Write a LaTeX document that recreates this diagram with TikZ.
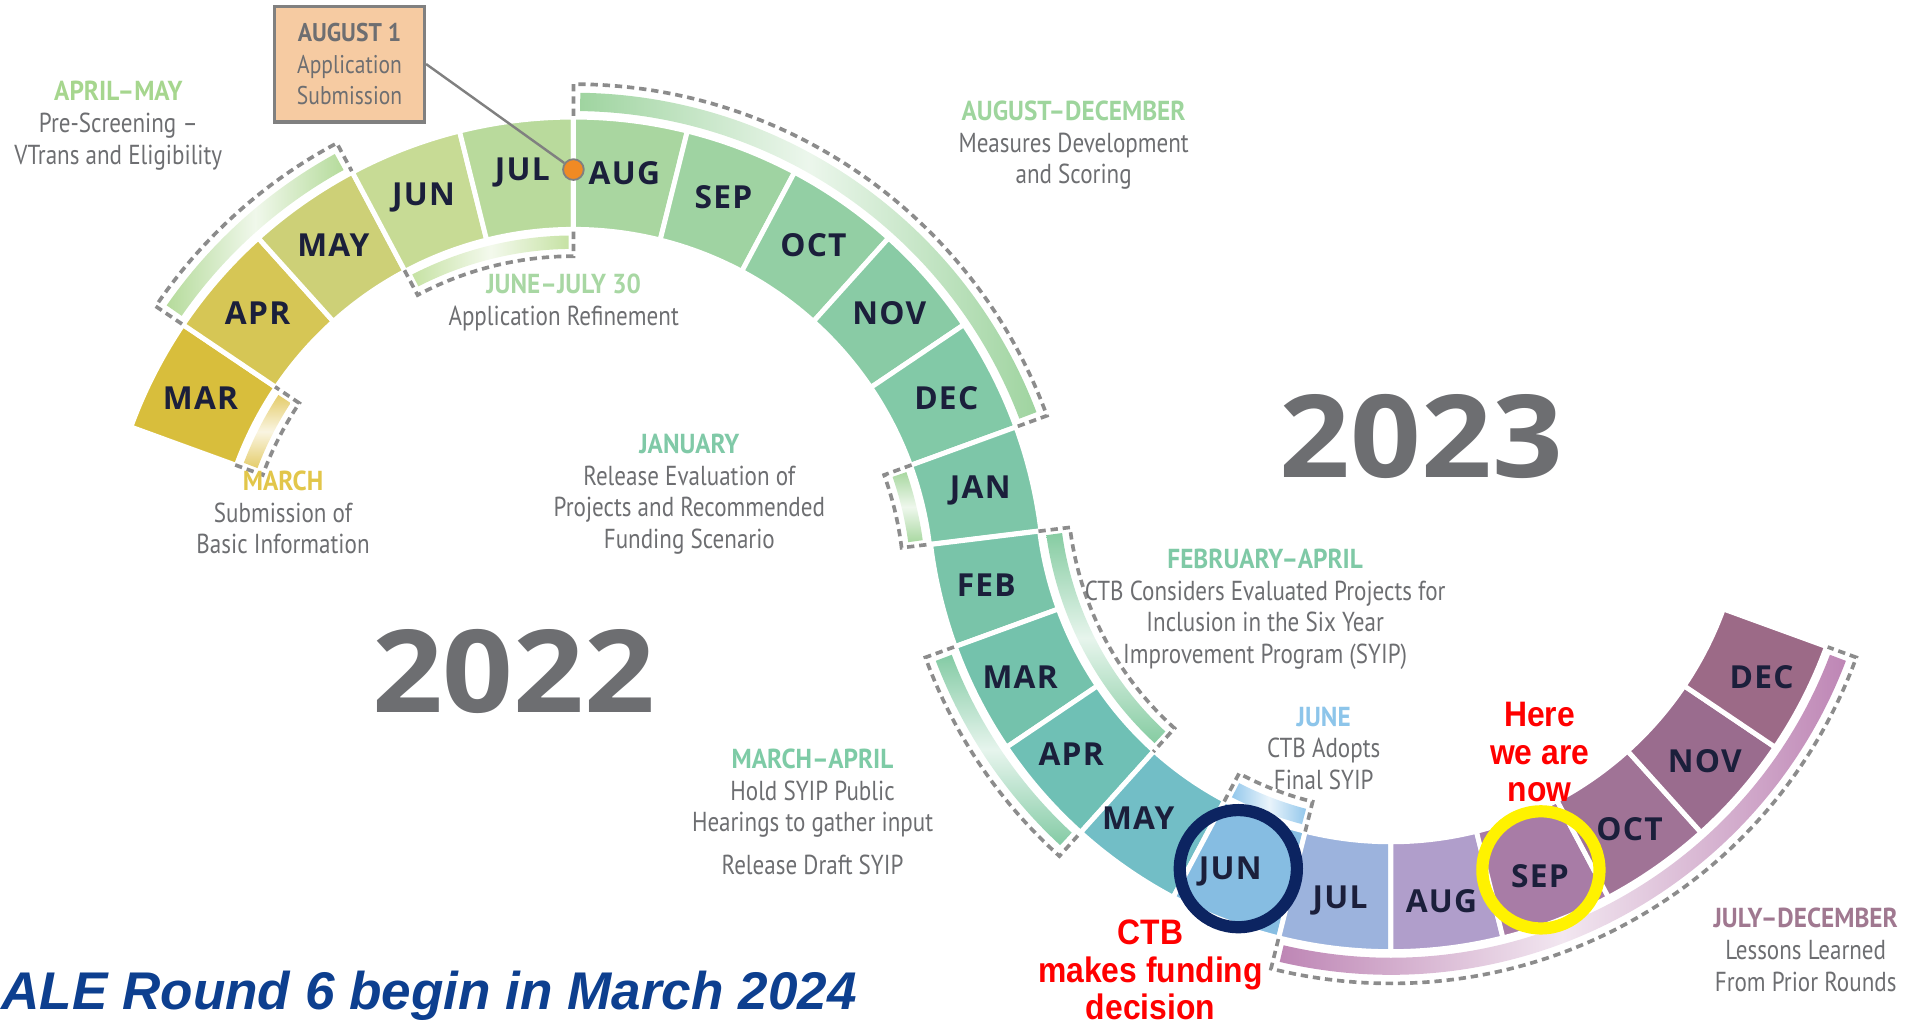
\documentclass[tikz,border=0pt]{standalone}
\usepackage{fontspec}
\usetikzlibrary{calc}
\newfontfamily\descfont[FakeStretch=0.84]{PT Sans}
\newfontfamily\headfont[FakeStretch=0.92]{PT Sans}
\newfontfamily\monthfont[LetterSpace=4]{Open Sans}
\newfontfamily\yearfont[FakeStretch=1.08]{Open Sans}
\newfontfamily\notefont[FakeStretch=0.9]{Liberation Sans}
\newfontfamily\titlefont{Liberation Sans}

\definecolor{monthtext}{HTML}{1B1F3B}
\definecolor{phasegray}{HTML}{6D6E71}
\definecolor{dashgray}{HTML}{8C8C8C}
\definecolor{notered}{HTML}{FF0000}
\definecolor{titleblue}{HTML}{0D3F8F}
\definecolor{ringnavy}{HTML}{0C2461}
\definecolor{ringyellow}{HTML}{FFF200}
\definecolor{boxpeach}{HTML}{F6CBA2}
\definecolor{boxgray}{HTML}{808080}
\definecolor{dotorange}{HTML}{F08A24}
% month colours, 2022 ring
\definecolor{uMar}{HTML}{D8BE3C}
\definecolor{uApr}{HTML}{D6C655}
\definecolor{uMay}{HTML}{CDD077}
\definecolor{uJun}{HTML}{C7DB95}
\definecolor{uJul}{HTML}{B9DA9C}
\definecolor{uAug}{HTML}{A9D6A0}
\definecolor{uSep}{HTML}{9FD3A2}
\definecolor{uOct}{HTML}{93CFA4}
\definecolor{uNov}{HTML}{89CBA5}
\definecolor{uDec}{HTML}{82C9A7}
\definecolor{uJan}{HTML}{7DC6A8}
% month colours, 2023 ring
\definecolor{lFeb}{HTML}{79C4A9}
\definecolor{lMar}{HTML}{74C2AC}
\definecolor{lApr}{HTML}{6FC0B5}
\definecolor{lMay}{HTML}{72BEC6}
\definecolor{lJun}{HTML}{86BDE2}
\definecolor{lJul}{HTML}{9CB3DD}
\definecolor{lAug}{HTML}{B09ECB}
\definecolor{lSep}{HTML}{A87CA6}
\definecolor{lOct}{HTML}{A07396}
\definecolor{lNov}{HTML}{9A6C8E}
\definecolor{lDec}{HTML}{9C6A87}
% phase headings and bands
\definecolor{hAprMay}{HTML}{A6D68E}
\definecolor{hJunJul}{HTML}{A8D7A3}
\definecolor{hAugDec}{HTML}{9ED59D}
\definecolor{hMar}{HTML}{E2C64A}
\definecolor{hJan}{HTML}{80C9A7}
\definecolor{hFebApr}{HTML}{7FC9A6}
\definecolor{hJune}{HTML}{8DC5EA}
\definecolor{hMarApr}{HTML}{7ECBA6}
\definecolor{hJulDec}{HTML}{A07890}
\definecolor{bAprMay}{HTML}{B5DB9B}
\definecolor{bJunJul}{HTML}{C6E2A4}
\definecolor{bAugDec}{HTML}{9FD4A0}
\definecolor{bMar}{HTML}{E4CC6A}
\definecolor{bJan}{HTML}{A9D8A1}
\definecolor{bFebApr}{HTML}{86CCA2}
\definecolor{bMarApr}{HTML}{84CBA5}
\definecolor{bJun}{HTML}{94C8EC}
\definecolor{bJulDec}{HTML}{BE86B5}

\tikzset{%
  every month/.style={
    font=\monthfont\bfseries\fontsize{26}{26}\selectfont,
    text=monthtext,
    inner sep=0pt
  },
  month seg/.style={
    draw=white,
    line width=4pt
  },
  phase text/.style={
    font=\descfont\fontsize{22.5}{26}\selectfont,
    text=phasegray,
    align=center,
    inner sep=0pt
  },
  phase outline/.style={
    draw=dashgray,
    line width=3pt,
    dash pattern=on 6pt off 4pt
  },
  red note/.style={
    font=\notefont\bfseries\fontsize{29}{31}\selectfont,
    text=notered,
    align=center,
    inner sep=0pt
  },
  year/.style={
    font=\yearfont\bfseries\fontsize{94}{94}\selectfont,
    text=phasegray,
    inner sep=0pt
  },
  mark ring/.style={
    circle,
    line width=10pt,
    minimum size=96pt,
    inner sep=0pt
  },
}
\newcommand\phasehead[2]{{\headfont\bfseries\color{#1}#2}}

\begin{document}
\begin{tikzpicture}[x=1pt, y=1pt]
\useasboundingbox (0,0) rectangle (1568,843);
\coordinate (c1) at (470,361);
\coordinate (c2) at (1140,443);

% 2022 ring
\foreach \m/\c [count=\i from 0] in {MAR/uMar,APR/uApr,MAY/uMay,JUN/uJun,JUL/uJul,AUG/uAug,SEP/uSep,OCT/uOct,NOV/uNov,DEC/uDec,JAN/uJan} {
  \pgfmathsetmacro\a{160-14*\i}
  \pgfmathsetmacro\b{max(\a-14,7)}
  \pgfmathsetmacro\mid{(\a+\b)/2}
  \filldraw [month seg, fill=\c, shift={(c1)}]
    (\a:386) arc[start angle=\a, end angle=\b, radius=386]
    -- (\b:294) arc[start angle=\b, end angle=\a, radius=294] -- cycle;
  \node [every month/.try] (upper-\m) at ($(c1)+(\mid:343)$) {\m};
}

% 2023 ring
\foreach \m/\c/\d [count=\i from 0] in {FEB/lFeb/0,MAR/lMar/0,APR/lApr/-1.2,MAY/lMay/-2.4,JUN/lJun/-1.7,JUL/lJul/0,AUG/lAug/0,SEP/lSep/0,OCT/lOct/0,NOV/lNov/0,DEC/lDec/0} {
  \pgfmathsetmacro\b{200+14*\i}
  \pgfmathsetmacro\a{max(\b-14,187)}
  \pgfmathsetmacro\mid{(\a+\b)/2+\d}
  \filldraw [month seg, fill=\c, shift={(c2)}]
    (\a:380) arc[start angle=\a, end angle=\b, radius=380]
    -- (\b:290) arc[start angle=\b, end angle=\a, radius=290] -- cycle;
  \node [every month/.try] (lower-\m) at ($(c2)+(\mid:341)$) {\m};
}

% phase bands with dashed frames
\foreach \cen/\a/\b/\ra/\rb/\rd/\re/\col/\sa in {
    c1/146/118/391/406/413/387/bAprMay/90,
    c1/118/90/289/278/272/295/bJunJul/90,
    c1/90/20/391/406/413/387/bAugDec/90,
    c1/160/146/289/277/271/295/bMar/0,
    c1/20/7/289/277/271/295/bJan/0,
    c2/187/228/285/272/265/291/bFebApr/0,
    c2/200/228/385/399/406/381/bMarApr/0,
    c2/242/256/285/272/265/291/bJun/90,
    c2/256/340/385/399/406/381/bJulDec/90} {
  \pgfmathsetmacro\s{(\b>\a) ? 0.8 : -0.8}
  \pgfmathsetmacro\ba{\a+\s}
  \pgfmathsetmacro\bb{\b-\s}
  \shade [left color=\col, right color=\col, middle color=\col!20, shading angle=\sa, shift={(\cen)}]
    (\ba:\ra) arc[start angle=\ba, end angle=\bb, radius=\ra]
    -- (\bb:\rb) arc[start angle=\bb, end angle=\ba, radius=\rb] -- cycle;
  \draw [phase outline, shift={(\cen)}]
    (\a:\re) -- (\a:\rd) arc[start angle=\a, end angle=\b, radius=\rd] -- (\b:\re);
}

% application submission marker
\node [draw=boxgray, fill=boxpeach, line width=2.5pt, minimum width=123pt, minimum height=95pt,
  font=\descfont\fontsize{21}{26}\selectfont, text=phasegray, align=center, inner sep=0pt]
  (aug-box) at (286.5,790.5) {{\headfont\bfseries AUGUST 1}\\Application\\Submission};
\node [circle, fill=dotorange, draw=boxgray, line width=1.5pt, minimum size=17pt, inner sep=0pt]
  (aug-dot) at ($(c1)+(90:343)$) {};
\draw [boxgray, line width=2pt] (aug-box.east) -- (aug-dot);

% phase descriptions
\node [phase text] (txt-aprmay) at (97,740)
  {\phasehead{hAprMay}{APRIL–MAY}\\Pre-Screening –\\VTrans and Eligibility};
\node [phase text] (txt-junjul) at (462,595)
  {\phasehead{hJunJul}{JUNE–JULY 30}\\Application Refinement};
\node [phase text] (txt-augdec) at (880,724)
  {\phasehead{hAugDec}{AUGUST–DECEMBER}\\Measures Development\\and Scoring};
\node [phase text] (txt-mar) at (232,423)
  {\phasehead{hMar}{MARCH}\\Submission of\\Basic Information};
\node [phase text] (txt-jan) at (565,438)
  {\phasehead{hJan}{JANUARY}\\Release Evaluation of\\Projects and Recommended\\Funding Scenario};
\node [phase text] (txt-febapr) at (1037,343.5)
  {\phasehead{hFebApr}{FEBRUARY–APRIL}\\CTB Considers Evaluated Projects for\\Inclusion in the Six Year\\Improvement Program (SYIP)};
\node [phase text] (txt-june) at (1085,229.5)
  {\phasehead{hJune}{JUNE}\\CTB Adopts\\Final SYIP};
\node [phase text] (txt-marapr) at (666,177.5)
  {\phasehead{hMarApr}{MARCH–APRIL}\\Hold SYIP Public\\Hearings to gather input\\[9pt]Release Draft SYIP};
\node [phase text] (txt-juldec) at (1480,64.5)
  {\phasehead{hJulDec}{JULY–DECEMBER}\\Lessons Learned\\From Prior Rounds};

% years
\node [year] (year-2022) at (421,293) {2022};
\node [year] (year-2023) at (1165,485) {2023};

% highlights
\node [mark ring, draw=ringnavy] (ring-jun) at (1015,131) {};
\node [mark ring, draw=ringyellow] (ring-sep) at (1263,130) {};
\node [red note] (note-now) at (1262,226.5) {Here\\we are\\now};
\node [red note] (note-ctb) at (943,48) {CTB\\makes funding\\decision};
\node [anchor=west, inner sep=0pt, text=titleblue, font=\titlefont\bfseries\itshape\fontsize{43.5}{43.5}\selectfont]
  (title) at (1,27) {ALE Round 6 begin in March 2024};
\end{tikzpicture}
\end{document}
